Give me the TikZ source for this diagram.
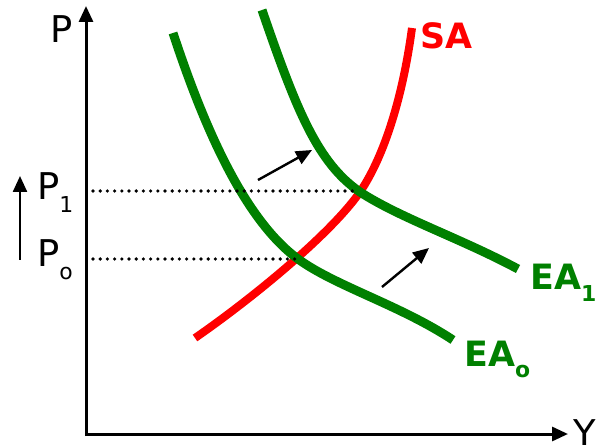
\documentclass[tikz,border=0pt]{standalone}
\usepackage{fontspec}
\setmainfont{DejaVu Sans}
\usetikzlibrary{arrows.meta}
\definecolor{cgreen}{RGB}{0,128,0}
\definecolor{cred}{RGB}{255,0,0}
\newcommand\mysub[1]{\raisebox{-0.33em}{\fontsize{22}{22}\selectfont #1}}
\tikzset{
  axisline/.style={line width=3bp, -{Triangle[length=16bp,width=14bp]}},
  shiftarrow/.style={line width=2.4bp, -{Triangle[length=16bp,width=14bp]}},
  guide/.style={line width=3.6bp, dash pattern=on 0bp off 7.2bp, line cap=round},
  eacurve/.style={cgreen, line width=9bp},
  sacurve/.style={cred, line width=8bp},
  lbl/.style={inner sep=0pt, anchor=base west, font=\fontsize{37}{37}\selectfont},
  blbl/.style={lbl, font=\fontsize{35}{35}\selectfont\bfseries},
}
\begin{document}
\begin{tikzpicture}[x=1bp,y=-1bp]
\useasboundingbox (0,0) rectangle (596,445);
% curves
\coordinate (sa0) at (195,338);
\coordinate (e1) at (360,192);
\coordinate (e0) at (298,259);
\coordinate (sa1) at (412,28);
\coordinate (ea0s) at (173,33);
\coordinate (ea0e) at (453,340);
\coordinate (ea1s) at (262,10);
\coordinate (ea1e) at (518,269);
\draw[sacurve] (sa0) .. controls (250,300) and (330,235) .. (e1) .. controls (385,155) and (403,95) .. (sa1);
\draw[eacurve] (ea0s) .. controls (205,130) and (245,220) .. (e0) .. controls (335,286) and (400,305) .. (ea0e);
\draw[eacurve] (ea1s) .. controls (297,112) and (318,163) .. (e1) .. controls (400,218) and (460,238) .. (ea1e);
% axes
\coordinate (ybot) at (86,436);
\coordinate (ytip) at (86,6);
\coordinate (xleft) at (85,434);
\coordinate (xtip) at (568,434);
\draw[axisline] (ybot) -- (ytip);
\draw[axisline] (xleft) -- (xtip);
% guides
\coordinate (g1a) at (93,191);
\coordinate (g1b) at (358,191);
\coordinate (g0a) at (93,259);
\coordinate (g0b) at (296,259);
\draw[guide] (g1a) -- (g1b);
\draw[guide] (g0a) -- (g0b);
% shift arrows
\coordinate (a1s) at (258,180);
\coordinate (a1e) at (312,150);
\coordinate (a2s) at (382,287);
\coordinate (a2e) at (429,248);
\draw[shiftarrow] (a1s) -- (a1e);
\draw[shiftarrow] (a2s) -- (a2e);
\coordinate (u1) at (20,260);
\coordinate (u2) at (20,176);
\draw[shiftarrow] (u1) -- (u2);
% labels
\node[lbl] (P) at (50,43) {P};
\node[lbl] (Y) at (573,446) {Y};
\node[lbl] (P1) at (37,200) {P\mysub{1}};
\node[lbl] (P0) at (37,267) {P\mysub{o}};
\node[blbl, cred] (SA) at (420,49) {SA};
\node[blbl, cgreen] (EA1) at (530,290) {EA\mysub{1}};
\node[blbl, cgreen] (EA0) at (464,366) {EA\mysub{o}};
\end{tikzpicture}
\end{document}
